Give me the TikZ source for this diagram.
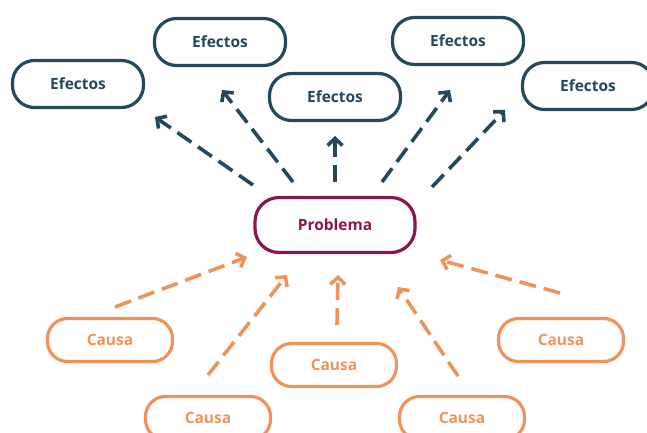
\documentclass[tikz,border=0pt]{standalone}
\usepackage{fontspec}
\setmainfont{Open Sans}
\usetikzlibrary{arrows.meta}
\definecolor{efc}{HTML}{23495A}
\definecolor{prc}{HTML}{8A1550}
\definecolor{cac}{HTML}{F0935A}
\tikzset{
  pill/.style={draw, line width=3.2pt, minimum width=#1, inner sep=0pt, font=\bfseries\fontsize{15.5}{18}\selectfont},
  efbox/.style={pill=131pt, minimum height=47pt, rounded corners=22pt, draw=efc, text=efc},
  prbox/.style={pill=160pt, minimum height=55pt, rounded corners=24pt, draw=prc, text=prc},
  cabox/.style={pill=125pt, minimum height=43pt, rounded corners=20pt, draw=cac, text=cac},
  conn/.style={line width=3.6pt, dash pattern=on 17pt off 8pt, -{Straight Barb[length=7pt,width=15pt,line width=3.6pt]}},
  efarr/.style={conn, draw=efc},
  caarr/.style={conn, draw=cac},
}
\begin{document}
\begin{tikzpicture}[x=1pt,y=-1pt]
\useasboundingbox (0,0) rectangle (647,433);
% effects
\node[efbox] (e1) at (78,84) {Efectos};
\node[efbox] (e2) at (220,42) {Efectos};
\node[efbox] (e3) at (335,97) {Efectos};
\node[efbox] (e4) at (458,41) {Efectos};
\node[efbox] (e5) at (588,86) {Efectos};
% problem
\node[prbox] (p) at (335,225) {Problema};
% causes
\node[cabox] (c1) at (110,340) {Causa};
\node[cabox] (c2) at (208,418) {Causa};
\node[cabox] (c3) at (334,365) {Causa};
\node[cabox] (c4) at (462,418) {Causa};
\node[cabox] (c5) at (561,340) {Causa};
% arrow endpoints
\coordinate (a1s) at (253,185); \coordinate (a1e) at (155,117);
\coordinate (a2s) at (293,182); \coordinate (a2e) at (222,90);
\coordinate (a3s) at (335,182); \coordinate (a3e) at (335,136);
\coordinate (a4s) at (382,182); \coordinate (a4e) at (450,90);
\coordinate (a5s) at (432,187); \coordinate (a5e) at (505,110);
\coordinate (b1s) at (115,307); \coordinate (b1e) at (247,257);
\coordinate (b2s) at (208,375); \coordinate (b2e) at (287,275);
\coordinate (b3s) at (337,325); \coordinate (b3e) at (338,275);
\coordinate (b4s) at (458,376); \coordinate (b4e) at (398,287);
\coordinate (b5s) at (560,293); \coordinate (b5e) at (440,260);
\foreach \i in {1,...,5}{\draw[efarr] (a\i s) -- (a\i e);}
\foreach \i in {1,...,5}{\draw[caarr] (b\i s) -- (b\i e);}
\end{tikzpicture}
\end{document}
